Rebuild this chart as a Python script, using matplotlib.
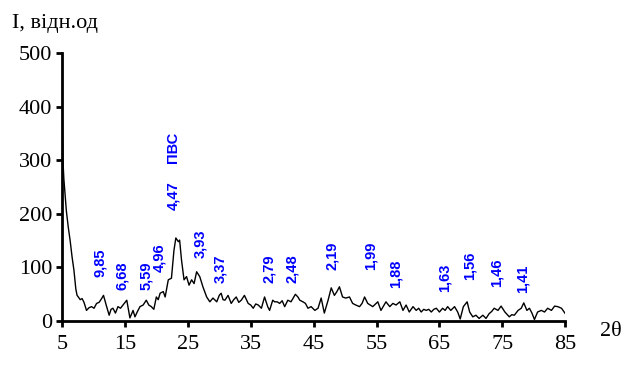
import matplotlib
matplotlib.use("Agg")
from matplotlib import pyplot as plt

two_theta = [5.0, 5.15, 5.3, 5.5, 5.7, 6.0, 6.3, 6.6, 6.9, 7.2, 7.4, 7.6, 7.9, 8.2, 8.5, 8.9,
             9.3, 9.7, 10.1, 10.5, 10.9, 11.3, 11.6, 12.1, 12.5, 12.8, 13.1, 13.5, 13.9, 14.3,
             14.7, 15.3, 15.8, 16.3, 16.6, 17.0, 17.4, 17.9, 18.4, 18.8, 19.2, 19.6, 20.0, 20.3,
             20.6, 21.1, 21.4, 21.9, 22.4, 22.8, 23.1, 23.5, 23.7, 24.0, 24.4, 24.8, 25.2, 25.6,
             26.0, 26.4, 26.9, 27.4, 28.0, 28.5, 29.0, 29.6, 30.0, 30.3, 30.6, 30.9, 31.4, 31.9,
             32.3, 32.7, 33.1, 33.5, 34.0, 34.6, 35.0, 35.4, 35.8, 36.2, 36.7, 37.2, 37.7, 38.0,
             38.5, 38.8, 39.2, 39.6, 40.0, 40.4, 40.9, 41.4, 42.1, 42.5, 42.8, 43.3, 43.7, 44.1,
             44.6, 45.2, 45.7, 46.2, 46.7, 47.3, 47.8, 48.3, 48.7, 49.1, 49.6, 50.1, 50.7, 51.2,
             51.7, 52.3, 52.7, 53.1, 53.6, 54.0, 54.4, 55.2, 55.7, 56.1, 56.5, 57.1, 57.6, 58.1,
             58.7, 59.2, 59.7, 60.2, 60.8, 61.3, 61.7, 62.1, 62.5, 62.9, 63.3, 63.7, 64.1, 64.5,
             65.0, 65.5, 65.9, 66.3, 66.8, 67.4, 67.9, 68.3, 68.8, 69.4, 69.8, 70.3, 70.8, 71.3,
             71.9, 72.4, 72.9, 73.3, 73.7, 74.3, 74.8, 75.4, 76.1, 76.5, 76.9, 77.5, 78.0, 78.4,
             78.9, 79.3, 79.7, 80.1, 80.6, 81.2, 81.7, 82.2, 82.8, 83.3, 83.8, 84.4, 85.0]
intensity = [430, 300, 265, 235, 205, 175, 150, 120, 95, 60, 48, 45, 40, 42, 35, 20,
             25, 27, 24, 33, 35, 42, 48, 27, 11, 22, 24, 15, 27, 24,
             30, 39, 6, 20, 8, 18, 27, 30, 39, 30, 27, 22, 45, 40,
             52, 55, 45, 77, 80, 132, 155, 148, 151, 114, 77, 83, 67, 77,
             70, 92, 83, 64, 45, 36, 43, 36, 48, 52, 40, 39, 48, 33,
             40, 45, 35, 39, 48, 33, 30, 24, 32, 30, 24, 45, 27, 20,
             39, 36, 36, 33, 38, 27, 39, 36, 50, 45, 39, 36, 33, 24,
             27, 20, 24, 43, 15, 39, 62, 48, 55, 64, 45, 43, 45, 33,
             30, 27, 33, 45, 33, 30, 27, 36, 20, 28, 36, 27, 33, 30,
             36, 20, 30, 17, 27, 20, 24, 17, 22, 20, 22, 17, 22, 24,
             17, 24, 20, 27, 20, 27, 17, 4, 27, 36, 17, 8, 11, 5,
             11, 5, 14, 18, 24, 20, 28, 17, 8, 12, 11, 20, 24, 34,
             20, 24, 15, 3, 17, 20, 17, 24, 20, 28, 27, 24, 14]

# підписи піків (міжплощинні відстані)
peak_labels = ["9,85", "6,68", "5,59", "4,96", "4,47", "ПВС", "3,93", "3,37", "2,79",
               "2,48", "2,19", "1,99", "1,88", "1,63", "1,56", "1,46", "1,41"]
peak_x = [11.0, 14.5, 18.4, 20.4, 22.7, 22.7, 26.9, 30.2, 37.9,
          41.6, 47.9, 54.0, 58.1, 65.8, 69.8, 74.1, 78.2]
peak_y = [82, 58, 58, 92, 207, 295, 117, 71, 71,
          71, 95, 95, 61, 55, 77, 64, 52]

plt.rcParams['font.family'] = ['Liberation Serif', 'DejaVu Serif']

fig = plt.figure(figsize=(6.26, 3.67), dpi=100)
ax = fig.add_axes([0.099, 0.125, 0.804, 0.731])
ax.plot(two_theta, intensity, color='black', linewidth=1.0)

for lab, px, py in zip(peak_labels, peak_x, peak_y):
    ax.text(px, py, lab, rotation=90, ha='center', va='bottom', color='#0000ff',
            fontsize=10.5, fontweight='bold', family=['Liberation Sans', 'DejaVu Sans'])

ax.set_xlim(5, 85)
ax.set_ylim(0, 500)
ax.set_xticks(range(5, 86, 10))
ax.set_yticks(range(0, 501, 100))
ax.spines['top'].set_visible(False)
ax.spines['right'].set_visible(False)
ax.spines['left'].set_linewidth(2)
ax.spines['bottom'].set_linewidth(2)
ax.tick_params(direction='out', length=4, width=2, labelsize=16)
ax.tick_params(axis='x', pad=6)
ax.tick_params(axis='y', pad=3)

fig.text(0.019, 0.937, "I, відн.од", fontsize=16, ha='left', va='center')
fig.text(0.958, 0.098, "2θ", fontsize=16, ha='left', va='center')

fig.savefig('out.png', dpi=100)
